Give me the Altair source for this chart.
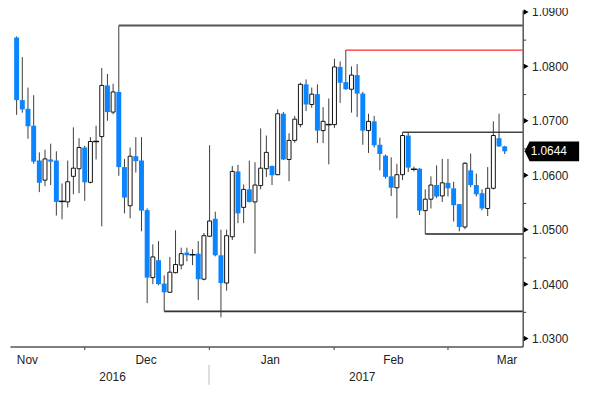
import altair as alt
import pandas as pd

# Daily candles (index 0 = mid-Nov 2016 ... index 86 = mid-Mar 2017)
opens = [1.0853, 1.0738, 1.0722, 1.0691, 1.0627, 1.0591, 1.0629, 1.0627, 1.0554, 1.0551,
         1.0598, 1.0612, 1.0651, 1.0587, 1.0661, 1.0671, 1.0765, 1.0716, 1.0753, 1.0615,
         1.0544, 1.0635, 1.0627, 1.0536, 1.0412, 1.0444, 1.0401, 1.0385, 1.0421, 1.0435,
         1.0458, 1.0455, 1.0456, 1.0409, 1.0488, 1.0520, 1.0453, 1.0402, 1.0487, 1.0607,
         1.0541, 1.0574, 1.0551, 1.0581, 1.0612, 1.0617, 1.0601, 1.0713, 1.0629, 1.0664,
         1.0693, 1.0767, 1.0730, 1.0749, 1.0682, 1.0692, 1.0693, 1.0799, 1.0771, 1.0758,
         1.0784, 1.0750, 1.0682, 1.0699, 1.0656, 1.0636, 1.0598, 1.0577, 1.0601, 1.0673,
         1.0613, 1.0612, 1.0535, 1.0556, 1.0582, 1.0562, 1.0586, 1.0576, 1.0547, 1.0505,
         1.0609, 1.0582, 1.0567, 1.0539, 1.0576, 1.0668, 1.0653]
highs = [1.0855, 1.0817, 1.0761, 1.0747, 1.0642, 1.0647, 1.0658, 1.0644, 1.0585, 1.0627,
         1.0688, 1.0668, 1.0654, 1.0670, 1.0691, 1.0797, 1.0786, 1.0768, 1.0875, 1.0630,
         1.0651, 1.0670, 1.0670, 1.0539, 1.0473, 1.0479, 1.0416, 1.0450, 1.0499, 1.0467,
         1.0467, 1.0464, 1.0479, 1.0494, 1.0655, 1.0533, 1.0500, 1.0500, 1.0617, 1.0619,
         1.0583, 1.0627, 1.0624, 1.0686, 1.0673, 1.0618, 1.0721, 1.0716, 1.0677, 1.0709,
         1.0770, 1.0776, 1.0761, 1.0767, 1.0725, 1.0741, 1.0814, 1.0809, 1.0830, 1.0800,
         1.0804, 1.0753, 1.0713, 1.0709, 1.0669, 1.0638, 1.0633, 1.0621, 1.0679, 1.0679,
         1.0616, 1.0613, 1.0574, 1.0598, 1.0618, 1.0630, 1.0630, 1.0588, 1.0547, 1.0624,
         1.0640, 1.0603, 1.0574, 1.0615, 1.0699, 1.0713, 1.0654]
lows = [1.0711, 1.0715, 1.0667, 1.0621, 1.0569, 1.0580, 1.0582, 1.0526, 1.0519, 1.0541,
        1.0565, 1.0567, 1.0553, 1.0585, 1.0629, 1.0506, 1.0700, 1.0712, 1.0599, 1.0530,
        1.0521, 1.0605, 1.0497, 1.0365, 1.0400, 1.0398, 1.0350, 1.0384, 1.0420, 1.0427,
        1.0442, 1.0435, 1.0371, 1.0407, 1.0487, 1.0451, 1.0339, 1.0388, 1.0481, 1.0512,
        1.0512, 1.0550, 1.0456, 1.0574, 1.0597, 1.0582, 1.0600, 1.0628, 1.0589, 1.0660,
        1.0688, 1.0718, 1.0724, 1.0659, 1.0659, 1.0620, 1.0687, 1.0733, 1.0757, 1.0715,
        1.0707, 1.0656, 1.0641, 1.0651, 1.0609, 1.0594, 1.0562, 1.0521, 1.0591, 1.0606,
        1.0607, 1.0527, 1.0492, 1.0539, 1.0558, 1.0551, 1.0561, 1.0515, 1.0497, 1.0501,
        1.0578, 1.0561, 1.0536, 1.0525, 1.0574, 1.0652, 1.0639]
closes = [1.0738, 1.0721, 1.0690, 1.0625, 1.0586, 1.0630, 1.0625, 1.0551, 1.0552, 1.0588,
          1.0613, 1.0651, 1.0587, 1.0662, 1.0662, 1.0765, 1.0716, 1.0753, 1.0615, 1.0559,
          1.0635, 1.0626, 1.0535, 1.0412, 1.0450, 1.0400, 1.0385, 1.0422, 1.0436, 1.0456,
          1.0453, 1.0454, 1.0409, 1.0489, 1.0516, 1.0453, 1.0402, 1.0489, 1.0607, 1.0530,
          1.0574, 1.0551, 1.0582, 1.0613, 1.0642, 1.0600, 1.0713, 1.0629, 1.0664, 1.0703,
          1.0767, 1.0730, 1.0749, 1.0682, 1.0699, 1.0693, 1.0799, 1.0770, 1.0758, 1.0784,
          1.0750, 1.0682, 1.0699, 1.0655, 1.0639, 1.0597, 1.0577, 1.0601, 1.0673, 1.0614,
          1.0611, 1.0535, 1.0556, 1.0582, 1.0561, 1.0586, 1.0576, 1.0545, 1.0505, 1.0622,
          1.0582, 1.0565, 1.0539, 1.0576, 1.0673, 1.0653, 1.0644]

# Axis positions (candle index units) and labels
month_tick_pos = [11.9, 33.9, 55.9, 75.9]
month_names = ["Nov", "Dec", "Jan", "Feb", "Mar"]
month_label_pos = [1.9, 22.8, 44.7, 66.4, 86.4]
year_names = ["2016", "2017"]
year_label_pos = [16.9, 60.9]
year_sep_pos = [33.9]
y_all_ticks = [1.030, 1.035, 1.040, 1.045, 1.050, 1.055, 1.060, 1.065, 1.070,
               1.075, 1.080, 1.085, 1.090]
y_major_ticks = [1.03, 1.04, 1.05, 1.06, 1.07, 1.08, 1.09]

# Support / resistance annotations: start candle, level
ann_start = [18, 58, 68, 72, 26]
ann_level = [1.0875, 1.0830, 1.0679, 1.0492, 1.0350]
ann_color = ["#555555", "#ff2a2a", "#444444", "#222222", "#333333"]
ann_width = [2.0, 1.3, 1.6, 1.5, 1.6]

FONT = "Liberation Sans"
FS = 12
BLUE = "#0a84ff"

n = len(opens)
kinds = []
for o, c in zip(opens, closes):
    if abs(o - c) < 0.00025:
        kinds.append("doji")
    elif c > o:
        kinds.append("up")
    else:
        kinds.append("down")
df = pd.DataFrame({"i": list(range(n)), "open": opens, "high": highs,
                   "low": lows, "close": closes, "kind": kinds})

xs = alt.Scale(domain=[-0.3, 88.3], nice=False, zero=False)
ys = alt.Scale(domain=[1.028546, 1.090364], nice=False, zero=False)

xaxis = alt.Axis(values=month_tick_pos, labels=False, title=None, grid=False,
                 tickSize=3, tickColor="#555555", domainColor="#555555",
                 domainWidth=1.5, tickWidth=1.2)
yaxis = alt.Axis(orient="right", values=y_all_ticks,
                 labelExpr="round(datum.value*1000) % 10 == 0 ? format(datum.value, '.4f') : ''",
                 grid=False, tickSize=3, tickColor="#333333", domainColor="#555555",
                 domainWidth=1.5, labelFont=FONT, labelFontSize=FS, labelColor="#222222",
                 labelPadding=6, labelFlush=False, labelOverlap=False, labelBound=False,
                 title=None)


def X(field):
    return alt.X(field, type="quantitative", scale=xs, axis=xaxis, title=None)


def Y(field):
    return alt.Y(field, type="quantitative", scale=ys, axis=yaxis, title=None)


ann = pd.DataFrame({"start": ann_start, "level": ann_level,
                    "color": ann_color, "w": ann_width})
ann_layer = alt.Chart(ann).mark_rule().encode(
    x=X("start"), x2=alt.value(518), y=Y("level"),
    color=alt.Color("color:N", scale=None),
    strokeWidth=alt.StrokeWidth("w:Q", scale=None))

base = alt.Chart(df)
wicks = base.mark_rule(color="#3c3c3c", strokeWidth=1).encode(
    x=X("i"), y=Y("low"), y2="high")
down = base.transform_filter("datum.kind == 'down'").mark_bar(
    size=5, color=BLUE).encode(x=X("i"), y=Y("open"), y2="close")
up = base.transform_filter("datum.kind == 'up'").mark_bar(
    size=4, fill="white", stroke="#111111", strokeWidth=1).encode(
    x=X("i"), y=Y("open"), y2="close")
doji = base.transform_filter("datum.kind == 'doji'").mark_tick(
    orient="horizontal", size=6, thickness=1.5, color="#111111", opacity=1).encode(
    x=X("i"), y=Y("close"))

tri = alt.Chart(pd.DataFrame({"v": y_major_ticks})).mark_point(
    shape="triangle-right", filled=True, color="black", size=30, opacity=1).encode(
    x=alt.value(521.5), y=Y("v"))

last = pd.DataFrame({"v": [closes[-1]], "txt": [f"{closes[-1]:.4f}"]})
box_path = "M -1 0 L -0.82 -0.364 L 1 -0.364 L 1 0.364 L -0.82 0.364 Z"
box = alt.Chart(last).mark_point(
    shape=box_path, filled=True, color="black", size=3025, opacity=1).encode(
    x=alt.value(547.5), y=Y("v"))
box_txt = alt.Chart(last).mark_text(
    align="left", baseline="middle", color="white", font=FONT, fontSize=FS).encode(
    x=alt.value(526), y=Y("v"), text="txt:N")

months = alt.Chart(pd.DataFrame({"pos": month_label_pos, "name": month_names})).mark_text(
    align="center", baseline="alphabetic", font=FONT, fontSize=FS, color="#222222").encode(
    x=X("pos"), y=alt.value(357.7), text="name:N")
years = alt.Chart(pd.DataFrame({"pos": year_label_pos, "name": year_names})).mark_text(
    align="center", baseline="alphabetic", font=FONT, fontSize=FS, color="#222222").encode(
    x=X("pos"), y=alt.value(375.3), text="name:N")
sep = alt.Chart(pd.DataFrame({"pos": year_sep_pos})).mark_rule(
    color="#bbbbbb", strokeWidth=1).encode(
    x=X("pos"), y=alt.value(358.7), y2=alt.value(378.7))

chart = alt.layer(ann_layer, wicks, down, up, doji, tri, box, box_txt, months, years, sep).properties(
    width=518, height=340,
    autosize=alt.AutoSizeParams(type="none"),
    padding={"left": 2, "top": 0, "right": 70, "bottom": 42},
    background="white",
).configure_view(stroke=None)

chart.save("out.html", embed_options={"renderer": "svg", "actions": False})
